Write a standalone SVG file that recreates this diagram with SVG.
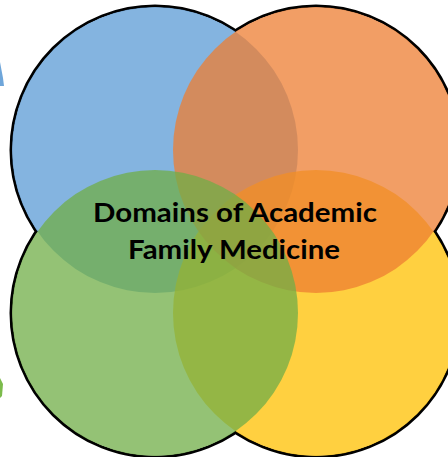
<svg xmlns="http://www.w3.org/2000/svg" width="448" height="457" viewBox="0 0 448 457">
<style>
.outline{fill:#fff;stroke:#000;stroke-width:3}
.cover{fill:#fff;stroke:none}
.c{stroke:none;fill-opacity:0.75}
.lbl{font-family:Lato,"Liberation Sans",sans-serif;font-weight:bold;font-size:26px;fill:#000;text-anchor:middle}
</style>
<rect width="448" height="457" fill="#fff"/>
<polygon points="0,62 3,78 4,86 0,86" fill="#6fa6da"/>
<polygon points="0,378 3,384 2,396 0,398" fill="#7cbb4c"/>
<g id="outlines">
<circle class="outline" cx="155" cy="150" r="144"/>
<circle class="outline" cx="316" cy="150" r="144"/>
<circle class="outline" cx="155" cy="313" r="144"/>
<circle class="outline" cx="316" cy="313" r="144"/>
<circle class="cover" cx="155" cy="150" r="142.5"/>
<circle class="cover" cx="316" cy="150" r="142.5"/>
<circle class="cover" cx="155" cy="313" r="142.5"/>
<circle class="cover" cx="316" cy="313" r="142.5"/>
</g>
<g id="blue"><circle class="c" cx="155" cy="150" r="143" fill="#5B9BD5"/></g>
<g id="yellow"><circle class="c" cx="316" cy="313" r="143" fill="#FFC000"/></g>
<g id="orange"><circle class="c" cx="316" cy="150" r="143" fill="#ED7D31"/></g>
<g id="green"><circle class="c" cx="155" cy="313" r="143" fill="#70AD47"/></g>
<g id="title">
<text class="lbl" x="235" y="222" textLength="284" lengthAdjust="spacingAndGlyphs">Domains of Academic</text>
<text class="lbl" x="234" y="258.5" textLength="212" lengthAdjust="spacingAndGlyphs">Family Medicine</text>
</g>
</svg>
